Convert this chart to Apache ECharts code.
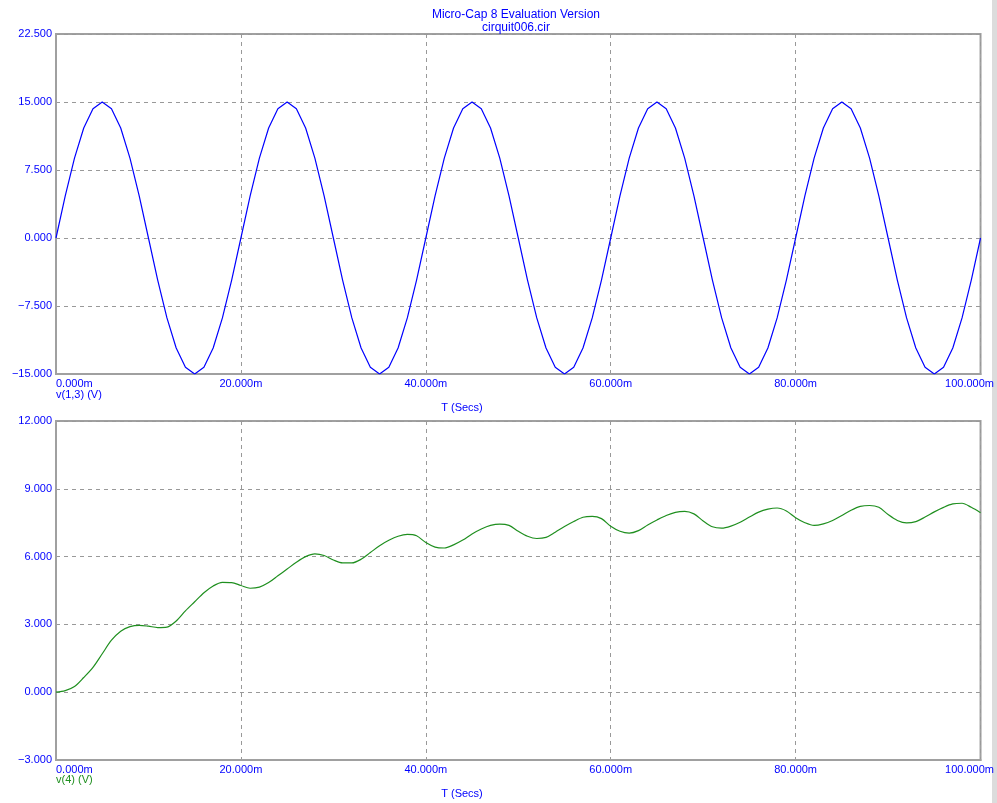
<!DOCTYPE html>
<html>
<head>
<meta charset="utf-8">
<script src="https://cdn.jsdelivr.net/npm/echarts@6/dist/echarts.min.js"></script>
<style>
  html, body { margin: 0; padding: 0; background: #ffffff; }
  #chart { width: 997px; height: 803px; }
</style>
</head>
<body>
<div id="chart"></div>
<script>
// Transient analysis results, sampled every 1 ms (0 .. 100 ms)
const timeMs = [];
for (let i = 0; i <= 100; i++) timeMs.push(i);

// v(1,3): source voltage (V)
const v13 = [
  0.000, 4.635, 8.817, 12.135, 14.266, 15.000, 14.266, 12.135, 8.817, 4.635,
  0.000, -4.635, -8.817, -12.135, -14.266, -15.000, -14.266, -12.135, -8.817, -4.635,
  0.000, 4.635, 8.817, 12.135, 14.266, 15.000, 14.266, 12.135, 8.817, 4.635,
  0.000, -4.635, -8.817, -12.135, -14.266, -15.000, -14.266, -12.135, -8.817, -4.635,
  0.000, 4.635, 8.817, 12.135, 14.266, 15.000, 14.266, 12.135, 8.817, 4.635,
  0.000, -4.635, -8.817, -12.135, -14.266, -15.000, -14.266, -12.135, -8.817, -4.635,
  0.000, 4.635, 8.817, 12.135, 14.266, 15.000, 14.266, 12.135, 8.817, 4.635,
  0.000, -4.635, -8.817, -12.135, -14.266, -15.000, -14.266, -12.135, -8.817, -4.635,
  0.000, 4.635, 8.817, 12.135, 14.266, 15.000, 14.266, 12.135, 8.817, 4.635,
  0.000, -4.635, -8.817, -12.135, -14.266, -15.000, -14.266, -12.135, -8.817, -4.635,
  0.000
];

// v(4): output node voltage (V)
const v4 = [
  0.00, 0.07, 0.25, 0.65, 1.10, 1.70, 2.30, 2.70, 2.90, 2.96,
  2.92, 2.86, 2.88, 3.15, 3.60, 4.00, 4.40, 4.70, 4.86, 4.85,
  4.72, 4.60, 4.65, 4.85, 5.15, 5.45, 5.75, 6.00, 6.12, 6.05,
  5.85, 5.72, 5.72, 5.88, 6.18, 6.48, 6.72, 6.90, 6.98, 6.92,
  6.62, 6.42, 6.38, 6.52, 6.73, 7.00, 7.22, 7.38, 7.44, 7.38,
  7.12, 6.90, 6.80, 6.85, 7.08, 7.33, 7.55, 7.74, 7.78, 7.68,
  7.34, 7.12, 7.04, 7.15, 7.40, 7.62, 7.82, 7.96, 8.00, 7.89,
  7.58, 7.32, 7.26, 7.35, 7.52, 7.75, 7.97, 8.10, 8.15, 8.02,
  7.72, 7.50, 7.38, 7.45, 7.60, 7.82, 8.05, 8.22, 8.26, 8.18,
  7.86, 7.60, 7.49, 7.55, 7.75, 7.98, 8.18, 8.33, 8.36, 8.18,
  7.94
];

// Axis ranges and tick steps
const xRange = { min: 0, max: 100, step: 20 };
const yTop = { min: -15, max: 22.5, step: 7.5 };
const yBottom = { min: -3, max: 12, step: 3 };

const titleLines = ['Micro-Cap 8 Evaluation Version', 'cirquit006.cir'];
const xAxisName = 'T (Secs)';
const topSeriesName = 'v(1,3) (V)';
const bottomSeriesName = 'v(4) (V)';

const FONT = '"Liberation Sans", Arial, sans-serif';
const BLUE = '#0000ff';
const GREEN = '#1f8f1f';
const GRID_GRAY = '#a0a0a0';

const pairs = (ys) => timeMs.map((t, i) => [t, ys[i]]);
const fmtY = (v) => (v < 0 ? '\u2212' : '') + Math.abs(v).toFixed(3);
const fmtX = (v) => v === xRange.max ? '{r|' + v.toFixed(3) + 'm}' : v.toFixed(3) + 'm';

function makeX(gridIndex) {
  return {
    type: 'value', gridIndex: gridIndex,
    min: xRange.min, max: xRange.max, interval: xRange.step,
    axisLine: { show: true, onZero: false, lineStyle: { color: GRID_GRAY, width: 2 } },
    axisTick: { show: false },
    splitLine: { show: true, lineStyle: { color: '#999999', type: [4, 4], width: 1 } },
    axisLabel: {
      color: BLUE, fontFamily: FONT, fontSize: 11, margin: 4,
      formatter: fmtX, alignMinLabel: 'left', alignMaxLabel: 'center',
      rich: { r: { color: BLUE, fontFamily: FONT, fontSize: 11, padding: [0, 22, 0, 0] } }
    }
  };
}
function makeY(gridIndex, r) {
  return {
    type: 'value', gridIndex: gridIndex,
    min: r.min, max: r.max, interval: r.step,
    axisLine: { show: true, onZero: false, lineStyle: { color: GRID_GRAY, width: 2 } },
    axisTick: { show: false },
    splitLine: { show: true, lineStyle: { color: '#999999', type: [4, 4], width: 1 } },
    axisLabel: { color: BLUE, fontFamily: FONT, fontSize: 11, margin: 4, formatter: fmtY }
  };
}

const chart = echarts.init(document.getElementById('chart'), null, { renderer: 'canvas' });
chart.setOption({
  animation: false,
  backgroundColor: '#ffffff',
  grid: [
    { left: 56, right: 16, top: 34, height: 340, show: true, borderColor: GRID_GRAY, borderWidth: 2, backgroundColor: 'transparent' },
    { left: 56, right: 16, top: 421, height: 339, show: true, borderColor: GRID_GRAY, borderWidth: 2, backgroundColor: 'transparent' }
  ],
  xAxis: [makeX(0), makeX(1)],
  yAxis: [makeY(0, yTop), makeY(1, yBottom)],
  series: [
    { type: 'line', xAxisIndex: 0, yAxisIndex: 0, data: pairs(v13), showSymbol: false,
      lineStyle: { color: BLUE, width: 1.2 }, z: 5 },
    { type: 'line', xAxisIndex: 1, yAxisIndex: 1, data: pairs(v4), showSymbol: false, smooth: 0.3,
      lineStyle: { color: GREEN, width: 1.2 }, z: 5 }
  ],
  graphic: [
    { type: 'rect', x: 992, y: 0, shape: { width: 5, height: 803 }, style: { fill: '#dcdcdc' } },
    { type: 'text', x: 516, y: 9, style: { text: titleLines[0], fill: BLUE, font: '12px ' + FONT, textAlign: 'center' } },
    { type: 'text', x: 516, y: 22, style: { text: titleLines[1], fill: BLUE, font: '12px ' + FONT, textAlign: 'center' } },
    { type: 'text', x: 56, y: 389, style: { text: topSeriesName, fill: BLUE, font: '11px ' + FONT } },
    { type: 'text', x: 462, y: 402, style: { text: xAxisName, fill: BLUE, font: '11px ' + FONT, textAlign: 'center' } },
    { type: 'text', x: 56, y: 774, style: { text: bottomSeriesName, fill: GREEN, font: '11px ' + FONT } },
    { type: 'text', x: 462, y: 788, style: { text: xAxisName, fill: BLUE, font: '11px ' + FONT, textAlign: 'center' } }
  ]
});
</script>
</body>
</html>
